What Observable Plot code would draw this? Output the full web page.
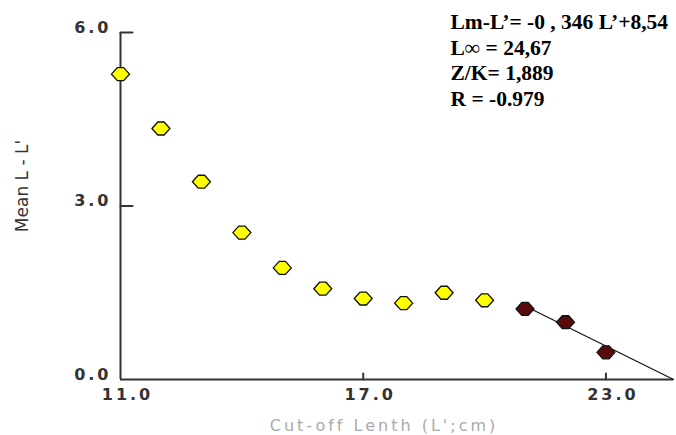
<!DOCTYPE html>
<html><head><meta charset="utf-8">
<script src="https://cdn.jsdelivr.net/npm/d3@7"></script>
<script src="https://cdn.jsdelivr.net/npm/@observablehq/plot@0.6"></script>
<style>
body{margin:0;background:#fff}
[aria-label$="tick label"] text {letter-spacing:3px}
</style>
</head><body><div id="chart"></div>
<script>
const cutoff   = [11, 12, 13, 14, 15, 16, 17, 18, 19, 20, 21, 22, 23];
const meanDiff = [5.28, 4.34, 3.42, 2.54, 1.93, 1.57, 1.40, 1.32, 1.50, 1.37, 1.22, 0.99, 0.47];
const inFit    = [false, false, false, false, false, false, false, false, false, false, true, true, true];
const fitX = [21, 24.67];
const fitY = [1.27, 0];
const yTicks = [0, 3, 6];
const xTicks = [11, 17, 23];
const yTickMarks = [3, 6];
const xTickMarks = [17, 23];
const annotation = ["Lm-L’= -0 , 346 L’+8,54", "L∞ = 24,67", "Z/K= 1,889", "R = -0.979"];
const xLabel = "Cut-off Lenth (L';cm)";
const yLabel = "Mean L - L'";

const points = cutoff.map((x, i) => ({x, y: meanDiff[i], fit: inFit[i]}));
const fitLine = fitX.map((x, i) => ({x, y: fitY[i]}));

const flatDiamond = {
  draw(ctx, size) {
    const r = Math.sqrt(size / Math.PI);
    const w = 1.5 * r, h = 1.08 * r;
    ctx.moveTo(-w, 0);
    ctx.lineTo(-0.35 * w, -h);
    ctx.lineTo(0.35 * w, -h);
    ctx.lineTo(w, 0);
    ctx.lineTo(0.35 * w, h);
    ctx.lineTo(-0.35 * w, h);
    ctx.closePath();
  }
};
const tickShape = {draw(ctx, l) { ctx.moveTo(0, 0); ctx.lineTo(0, -l); }};

const chart = Plot.plot({
  width: 676,
  height: 435,
  marginLeft: 120,
  marginTop: 32,
  marginBottom: 56,
  marginRight: 3,
  style: {fontFamily: "DejaVu Sans", fontSize: "16px", background: "white", color: "#333"},
  x: {domain: [11, 24.67]},
  y: {domain: [0, 6]},
  marks: [
    Plot.axisY(yTicks, {tickSize: 0, tickPadding: 9, dy: -5, tickFormat: d3.format(".1f"), fontSize: 16, fontWeight: "bold", fill: "#333", label: null}),
    Plot.axisX(xTicks, {tickSize: 0, tickPadding: 9, dx: 7, tickFormat: d3.format(".1f"), fontSize: 16, fontWeight: "bold", fill: "#333", label: null}),
    Plot.ruleX([11], {stroke: "#333", strokeWidth: 2}),
    Plot.ruleY([0], {stroke: "#333", strokeWidth: 2}),
    Plot.vector(yTickMarks, {x: () => 11, y: d => d, rotate: 90, length: 12, anchor: "start", shape: tickShape, stroke: "#333", strokeWidth: 2}),
    Plot.vector(xTickMarks, {x: d => d, y: () => 0, rotate: 0, length: 6, anchor: "start", shape: tickShape, stroke: "#333", strokeWidth: 2}),
    Plot.line(fitLine, {x: "x", y: "y", stroke: "#111", strokeWidth: 1.2}),
    Plot.dot(points, {x: "x", y: "y", r: 6, symbol: flatDiamond, fill: d => d.fit ? "#5a0a0a" : "#ffff00", stroke: "#111", strokeWidth: 1.3}),
    Plot.text([yLabel], {frameAnchor: "left", rotate: -90, textAnchor: "middle", lineAnchor: "middle", dx: -98, dy: -20, fontSize: 17, fill: "#333", fontFamily: "DejaVu Sans"}),
    Plot.text([xLabel], {frameAnchor: "bottom", textAnchor: "middle", lineAnchor: "middle", dx: -13, dy: 46, fontSize: 16, fill: "#aaa", fontFamily: "DejaVu Sans"}),
    Plot.text([annotation.join("\n")], {frameAnchor: "top-left", dx: 330, dy: -22, lineAnchor: "top", textAnchor: "start", lineHeight: 1.2, fontSize: 21.5, fontWeight: "bold", fontFamily: "Liberation Serif", fill: "black"})
  ]
});
d3.select(chart).selectAll("text").filter(function() { return this.textContent === xLabel; }).attr("letter-spacing", "3px");
document.getElementById("chart").append(chart);
</script>
</body></html>
